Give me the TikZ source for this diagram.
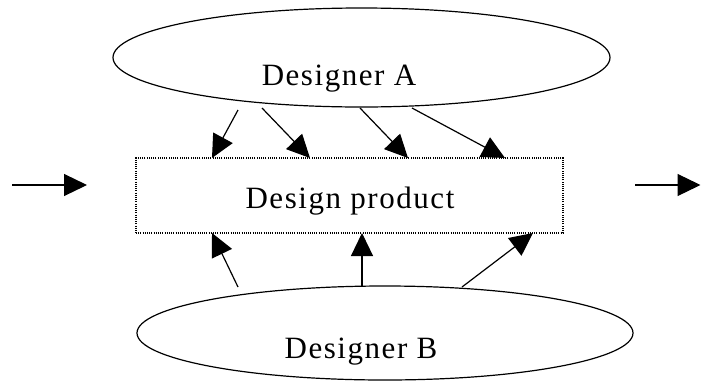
\documentclass[tikz,border=0pt]{standalone}
\usepackage{fontspec}
\setmainfont{Liberation Serif}
\usetikzlibrary{shapes.geometric,arrows.meta}
\begin{document}
\begin{tikzpicture}[x=1pt,y=-1pt,
  oval/.style={draw,ellipse,line width=1.2pt,inner sep=0pt},
  prod/.style={draw,line width=1.1pt,dash pattern=on 1pt off 1.2pt,inner sep=0pt},
  lbl/.style={font=\fontsize{31}{31}\selectfont\addfontfeatures{LetterSpace=5}, inner sep=0pt, anchor=base},
  arr/.style={line width=1.2pt,-{Triangle[length=23pt,width=22pt]}}]
\useasboundingbox (0,0) rectangle (701,381);
\node[oval,minimum width=497pt,minimum height=99pt] (A) at (361.5,57.5) {};
\node[oval,minimum width=496pt,minimum height=94pt] (B) at (385,333) {};
\node[prod,minimum width=427pt,minimum height=75pt] (P) at (349.5,195.5) {};
\node[lbl] (At) at (339,85) {Designer A};
\node[lbl] (Pt) at (350,208) {Design product};
\node[lbl] (Bt) at (361,358) {Designer B};
% start points near designer A
\coordinate (a1) at (238,110);
\coordinate (a2) at (262,108);
\coordinate (a3) at (360,108);
\coordinate (a4) at (412,108);
% end points on product top
\coordinate (p1) at (212,158);
\coordinate (p2) at (310,158);
\coordinate (p3) at (408,158);
\coordinate (p4) at (505,158);
\draw[arr] (a1) -- (p1);
\draw[arr] (a2) -- (p2);
\draw[arr] (a3) -- (p3);
\draw[arr] (a4) -- (p4);
% designer B
\coordinate (b1) at (238,287);
\coordinate (b2) at (362,286);
\coordinate (b3) at (462,287);
\coordinate (q1) at (212,233);
\coordinate (q2) at (362,233);
\coordinate (q3) at (533,233);
\draw[arr] (b1) -- (q1);
\draw[arr] (b2) -- (q2);
\draw[arr] (b3) -- (q3);
% input / output
\coordinate (in0) at (12,185);
\coordinate (in1) at (87,185);
\coordinate (out0) at (635,185);
\coordinate (out1) at (700.5,185);
\draw[arr] (in0) -- (in1);
\draw[arr] (out0) -- (out1);
\end{tikzpicture}
\end{document}
